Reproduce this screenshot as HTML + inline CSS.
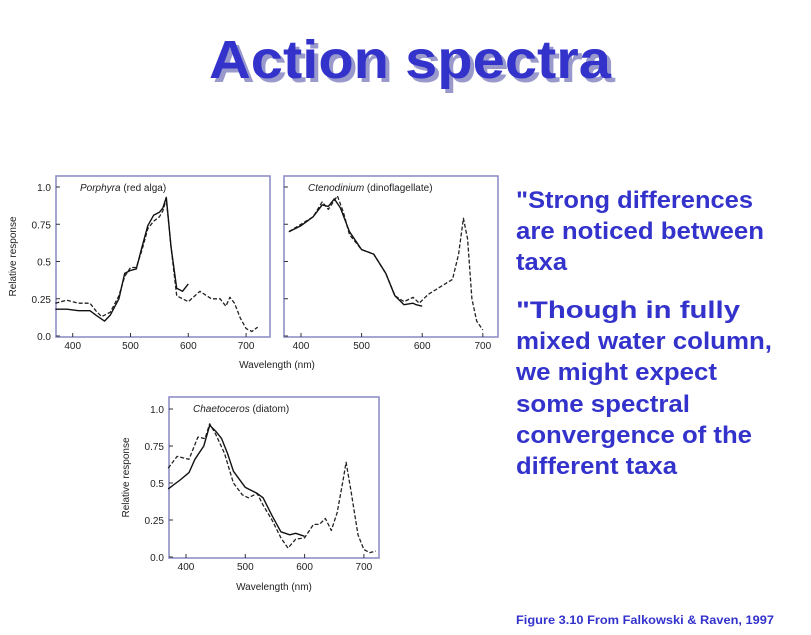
<!DOCTYPE html>
<html><head><meta charset="utf-8"><style>
body{margin:0;background:#fff;width:811px;height:635px;overflow:hidden}
svg{display:block;font-family:"Liberation Sans",sans-serif}
.tk{font-size:10px;fill:#222}
.bt{font-family:"Liberation Sans",sans-serif;font-weight:bold;font-size:24px;fill:#3333cc}
</style></head><body>
<svg id="s" width="811" height="635" viewBox="0 0 811 635">
<text x="213" y="82" font-size="54" font-weight="bold" fill="#9999cc" textLength="402" lengthAdjust="spacingAndGlyphs">Action spectra</text>
<text x="209" y="78" font-size="54" font-weight="bold" fill="#3333cc" textLength="402" lengthAdjust="spacingAndGlyphs">Action spectra</text>
<g>
<text class="bt" x="516" y="208" textLength="237" lengthAdjust="spacingAndGlyphs">"Strong differences</text>
<text class="bt" x="516" y="239" textLength="248" lengthAdjust="spacingAndGlyphs">are noticed between</text>
<text class="bt" x="516" y="270" textLength="51" lengthAdjust="spacingAndGlyphs">taxa</text>
<text class="bt" x="516" y="318" textLength="224" lengthAdjust="spacingAndGlyphs">"Though in fully</text>
<text class="bt" x="516" y="349" textLength="256" lengthAdjust="spacingAndGlyphs">mixed water column,</text>
<text class="bt" x="516" y="380" textLength="201" lengthAdjust="spacingAndGlyphs">we might expect</text>
<text class="bt" x="516" y="412" textLength="174" lengthAdjust="spacingAndGlyphs">some spectral</text>
<text class="bt" x="516" y="443" textLength="236" lengthAdjust="spacingAndGlyphs">convergence of the</text>
<text class="bt" x="516" y="474" textLength="161" lengthAdjust="spacingAndGlyphs">different taxa</text>
</g>
<text x="516" y="624" font-size="12" font-weight="bold" fill="#3333cc" textLength="258" lengthAdjust="spacingAndGlyphs">Figure 3.10 From Falkowski &amp; Raven, 1997</text>
</svg>
<script>
const p1SolidWl=[370,390,410,430,440,455,465,480,490,500,510,520,530,540,550,556,562,570,580,590,600];
const p1SolidVal=[.18,.18,.17,.17,.14,.10,.14,.25,.42,.44,.45,.60,.74,.81,.83,.86,.93,.60,.32,.30,.35];
const p1DashWl=[370,390,410,430,440,450,465,480,490,500,510,520,530,540,550,556,562,570,580,600,620,640,655,665,672,680,690,700,710,720];
const p1DashVal=[.22,.24,.22,.22,.17,.13,.16,.27,.40,.46,.46,.58,.72,.77,.80,.84,.92,.60,.27,.23,.30,.25,.25,.20,.26,.22,.12,.05,.03,.06];
const p2SolidWl=[380,400,420,435,445,455,465,480,500,520,540,555,570,585,590,600];
const p2SolidVal=[.70,.74,.80,.88,.87,.92,.86,.70,.58,.55,.42,.27,.21,.22,.21,.20];
const p2DashWl=[380,400,420,435,445,460,470,480,500,520,540,555,570,585,595,610,630,650,660,668,675,682,690,700];
const p2DashVal=[.70,.75,.80,.90,.85,.94,.83,.68,.58,.55,.42,.27,.23,.26,.22,.28,.33,.38,.55,.79,.65,.25,.10,.04];
const p3SolidWl=[370,390,405,415,430,440,450,460,470,480,500,520,530,545,560,575,585,600];
const p3SolidVal=[.46,.52,.57,.66,.75,.89,.85,.80,.70,.58,.47,.43,.40,.28,.17,.15,.16,.14];
const p3DashWl=[370,385,405,420,432,440,450,465,480,495,505,520,530,545,560,572,585,600,615,625,635,645,655,665,670,678,690,700,710,720];
const p3DashVal=[.60,.68,.66,.81,.80,.90,.83,.70,.50,.42,.40,.43,.35,.25,.13,.06,.12,.13,.22,.22,.26,.18,.30,.52,.64,.45,.15,.05,.03,.04];
const xTicks=[400,500,600,700];
const yTicks=[0,0.25,0.5,0.75,1.0];
const yTickLabels=["0.0","0.25","0.5","0.75","1.0"];

const svg=document.getElementById('s');
const NS='http://www.w3.org/2000/svg';
function mk(t,a,parent){const e=document.createElementNS(NS,t);for(const k in a)e.setAttribute(k,a[k]);(parent||svg).appendChild(e);return e;}
function panel(name,box,x400,pxPer100,y0,y1,title,italic,xlab,ylab,solidWl,solidVal,dashWl,dashVal){
  const g=mk('g',{});
  
  
  const xs=w=>x400+(w-400)*pxPer100/100;
  const ys=v=>y0+(y1-y0)*v;
  const fr=mk('rect',{x:box[0],y:box[1],width:box[2]-box[0],height:box[3]-box[1],fill:'none',stroke:'#8f8fc8','stroke-width':1.6},g);
  
  
  xTicks.forEach(t=>{
    const x=xs(t);
    mk('line',{x1:x,y1:box[3],x2:x,y2:box[3]-4,stroke:'#333','stroke-width':1},g);
    const tx=mk('text',{x:x,y:box[3]+12,'text-anchor':'middle',class:'tk'},g);tx.textContent=t;
    
    
  });
  yTicks.forEach((t,i)=>{
    const y=ys(t);
    mk('line',{x1:box[0],y1:y,x2:box[0]+4,y2:y,stroke:'#333','stroke-width':1},g);
    if(ylab){const tx=mk('text',{x:box[0]-5,y:y+4,'text-anchor':'end',class:'tk'},g);tx.textContent=yTickLabels[i];
    
    }
  });
  const tt=mk('text',{x:box[0]+24,y:box[1]+15,'font-size':10,fill:'#222'},g);
  const it=document.createElementNS(NS,'tspan');it.setAttribute('font-style','italic');it.textContent=title;tt.appendChild(it);
  const rest=document.createElementNS(NS,'tspan');rest.textContent=' '+italic;tt.appendChild(rest);
  
  
  if(ylab){const yl=mk('text',{transform:`translate(${box[0]-40},${(box[1]+box[3])/2}) rotate(-90)`,'text-anchor':'middle','font-size':10,fill:'#222'},g);yl.textContent='Relative response';
  
  }
  if(xlab){const xl=mk('text',{x:xlab[0],y:xlab[1],'text-anchor':'middle','font-size':10,fill:'#222'},g);xl.textContent='Wavelength (nm)';
  
  }
  const pts=(W,V)=>W.map((w,i)=>xs(w).toFixed(1)+','+ys(V[i]).toFixed(1)).join(' ');
  const d=mk('polyline',{points:pts(dashWl,dashVal),fill:'none',stroke:'#222','stroke-width':1.3,'stroke-dasharray':'4,2','stroke-linejoin':'round'},g);
  
  
  const s=mk('polyline',{points:pts(solidWl,solidVal),fill:'none',stroke:'#111','stroke-width':1.4,'stroke-linejoin':'round'},g);
  
  
}
panel('porphyra-panel',[56,176,270,337],72.7,57.8,336,187,'Porphyra','(red alga)',null,true,p1SolidWl,p1SolidVal,p1DashWl,p1DashVal);
panel('ctenodinium-panel',[284,176,498,337],301,60.6,336,187,'Ctenodinium','(dinoflagellate)',[277,368],false,p2SolidWl,p2SolidVal,p2DashWl,p2DashVal);
panel('chaetoceros-panel',[169,397,379,558],186,59.3,557,409,'Chaetoceros','(diatom)',[274,590],true,p3SolidWl,p3SolidVal,p3DashWl,p3DashVal);
</script>
</body></html>
